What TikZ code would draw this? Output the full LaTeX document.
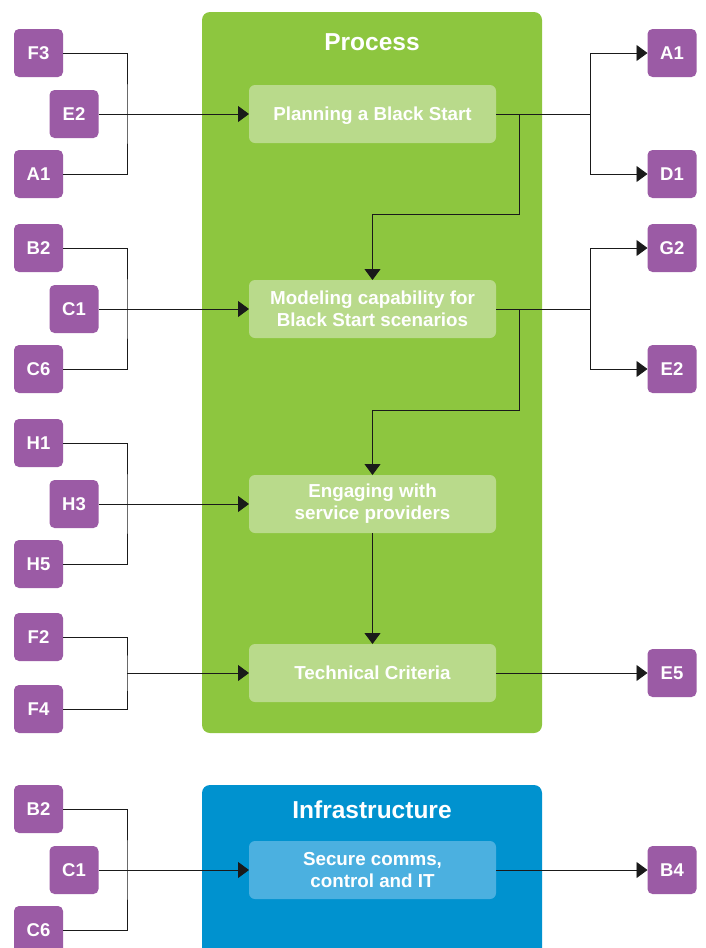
\documentclass[tikz,border=0pt]{standalone}
\usepackage{fontspec}
\setmainfont{Liberation Sans}
\usetikzlibrary{arrows.meta}
\definecolor{tagpurple}{HTML}{9B5BA5}
\definecolor{procgreen}{HTML}{8DC63F}
\definecolor{proclight}{HTML}{B9DA8B}
\definecolor{infrablue}{HTML}{0092CF}
\definecolor{infralight}{HTML}{4BB0E0}
\definecolor{linegrey}{HTML}{1A1A1A}

\begin{document}
\begin{tikzpicture}[x=1pt,y=-1pt,
  tagbox/.style={fill=tagpurple, rounded corners=5pt, minimum width=49pt,
    minimum height=48pt, inner sep=0pt, outer sep=0pt, text=white,
    text height=13.3pt, text depth=0pt,
    font=\bfseries\fontsize{18.5}{21}\selectfont},
  stepbox/.style={rounded corners=6pt, minimum width=247pt, minimum height=58pt,
    inner sep=0pt, outer sep=0pt, text=white, align=center,
    font=\bfseries\fontsize{18.8}{22}\selectfont},
  oneline/.style={text height=13.5pt, text depth=0pt},
  paneltitle/.style={text=white, inner sep=0pt, font=\bfseries\fontsize{24.5}{28}\selectfont},
  link/.style={draw=linegrey, line width=0.9pt},
  arr/.style={link, -{Triangle[length=11pt,width=16pt]}},
]
\useasboundingbox (0,0) rectangle (705,948);

% ---- panels ----
\begin{scope}
  \clip (0,0) rectangle (705,948);
  \fill[procgreen, rounded corners=8pt] (202,12) rectangle (542,733);
  \fill[infrablue, rounded corners=8pt] (202,785) rectangle (542,970);
\end{scope}
\node[paneltitle] (proctitle) at (372,42) {Process};
\node[paneltitle] (infratitle) at (372,810) {Infrastructure};

% ---- process steps ----
\node[stepbox, oneline, fill=proclight] (plan) at (372.5,114) {Planning a Black Start};
\node[stepbox, fill=proclight] (model)  at (372.5,309) {Modeling capability for\\Black Start scenarios};
\node[stepbox, fill=proclight] (engage) at (372.5,504) {Engaging with\\service providers};
\node[stepbox, oneline, fill=proclight] (tech) at (372.5,673) {Technical Criteria};
\node[stepbox, fill=infralight] (secure) at (372.5,870) {Secure comms,\\control and IT};

% ---- input tags ----
\node[tagbox] (inF3) at (38.5,53)  {F3};
\node[tagbox] (inE2) at (74,114)   {E2};
\node[tagbox] (inA1) at (38.5,174) {A1};

\node[tagbox] (inB2) at (38.5,248) {B2};
\node[tagbox] (inC1) at (74,309)   {C1};
\node[tagbox] (inC6) at (38.5,369) {C6};

\node[tagbox] (inH1) at (38.5,443) {H1};
\node[tagbox] (inH3) at (74,504)   {H3};
\node[tagbox] (inH5) at (38.5,564) {H5};

\node[tagbox] (inF2) at (38.5,637) {F2};
\node[tagbox] (inF4) at (38.5,709) {F4};

\node[tagbox] (inB2b) at (38.5,809) {B2};
\node[tagbox] (inC1b) at (74,870)   {C1};
\node[tagbox] (inC6b) at (38.5,930) {C6};

% ---- output tags ----
\node[tagbox] (outA1) at (672,53)  {A1};
\node[tagbox] (outD1) at (672,174) {D1};
\node[tagbox] (outG2) at (672,248) {G2};
\node[tagbox] (outE2) at (672,369) {E2};
\node[tagbox] (outE5) at (672,673) {E5};
\node[tagbox] (outB4) at (672,870) {B4};

% ---- junction points ----
\coordinate (jin1) at (127,114);
\coordinate (jin2) at (127,309);
\coordinate (jin3) at (127,504);
\coordinate (jin4) at (127,673);
\coordinate (jin5) at (127,870);
\coordinate (jout1) at (590,114);
\coordinate (jout2) at (590,309);
\coordinate (drop1) at (519,114);
\coordinate (bend1) at (519,214);
\coordinate (drop2) at (519,309);
\coordinate (bend2) at (519,410);

% ---- input brackets ----
\draw[link] (inF3.east) -| (jin1) |- (inA1.east);
\draw[arr]  (inE2.east) -- (plan.west);

\draw[link] (inB2.east) -| (jin2) |- (inC6.east);
\draw[arr]  (inC1.east) -- (model.west);

\draw[link] (inH1.east) -| (jin3) |- (inH5.east);
\draw[arr]  (inH3.east) -- (engage.west);

\draw[link] (inF2.east) -| (jin4) |- (inF4.east);
\draw[arr]  (jin4) -- (tech.west);

\draw[link] (inB2b.east) -| (jin5) |- (inC6b.east);
\draw[arr]  (inC1b.east) -- (secure.west);

% ---- outputs ----
\draw[link] (plan.east) -- (jout1);
\draw[arr]  (jout1) |- (outA1.west);
\draw[arr]  (jout1) |- (outD1.west);

\draw[link] (model.east) -- (jout2);
\draw[arr]  (jout2) |- (outG2.west);
\draw[arr]  (jout2) |- (outE2.west);

\draw[arr] (tech.east) -- (outE5.west);
\draw[arr] (secure.east) -- (outB4.west);

% ---- flow between steps ----
\draw[arr] (drop1) -- (bend1) -| (model.north);
\draw[arr] (drop2) -- (bend2) -| (engage.north);
\draw[arr] (engage.south) -- (tech.north);
\end{tikzpicture}
\end{document}
